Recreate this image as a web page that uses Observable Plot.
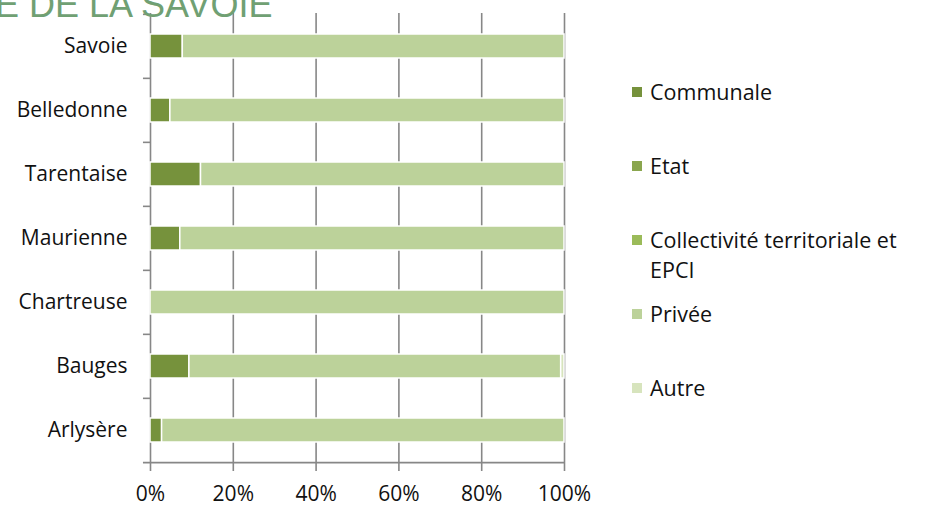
<!DOCTYPE html>
<html>
<head>
<meta charset="utf-8">
<script src="https://cdn.jsdelivr.net/npm/d3@7"></script>
<script src="https://cdn.jsdelivr.net/npm/@observablehq/plot@0.6"></script>
<style>
  html, body { margin: 0; padding: 0; background: #fff; }
  #wrap { position: relative; width: 926px; height: 506px; overflow: hidden; font-family: "Open Sans", Lato, sans-serif; }
  #title { position: absolute; left: -5px; top: -13.5px; font-family: "Liberation Sans", Arial, sans-serif; font-size: 36px; color: #70a073; white-space: nowrap; line-height: 1; }
  #chart { position: absolute; left: 0; top: 0; }
  #legend { position: absolute; left: 632px; top: 0; }
  .li { position: absolute; left: 0; white-space: nowrap; font-size: 21.5px; color: #111; line-height: 30px; }
  .sw { position: absolute; left: 0; width: 10px; height: 10px; }
  .lt { position: absolute; left: 18px; }
</style>
</head>
<body>
<div id="wrap">
  <div id="chart"></div>
  <div id="title">E DE LA SAVOIE</div>
  <div id="legend"></div>
</div>
<script>
const regions = ["Savoie", "Belledonne", "Tarentaise", "Maurienne", "Chartreuse", "Bauges", "Arlysère"];
const series = ["Communale", "Etat", "Collectivité territoriale et EPCI", "Privée", "Autre"];
const colors = ["#76923c", "#8aa64e", "#9bbb59", "#bcd29a", "#d7e4bd"];
const communale = [7.8, 4.8, 12.2, 7.2, 0, 9.4, 2.8];
const etat = [0, 0, 0, 0, 0, 0, 0];
const collectivite = [0, 0, 0, 0, 0, 0, 0];
const privee = [92.2, 95.2, 87.8, 92.8, 100, 89.8, 97.2];
const autre = [0, 0, 0, 0, 0, 0.8, 0];
const xTicks = [0, 0.2, 0.4, 0.6, 0.8, 1];

const cols = [communale, etat, collectivite, privee, autre];
const data = [];
regions.forEach((r, i) => {
  series.forEach((s, j) => {
    data.push({region: r, serie: s, value: cols[j][i] / 100});
  });
});

const chart = Plot.plot({
  width: 620,
  height: 506,
  marginLeft: 150,
  marginRight: 56,
  marginTop: 13,
  marginBottom: 43,
  style: {fontFamily: "'Open Sans', Lato, sans-serif", fontSize: "21px", color: "#111", background: "transparent"},
  x: {domain: [0, 1], label: null},
  y: {domain: regions, paddingInner: 0.625, paddingOuter: 0.3125, align: 0.5, label: null},
  color: {domain: series, range: colors},
  marks: [
    Plot.gridX(xTicks, {stroke: "#878787", strokeOpacity: 1, strokeWidth: 1.6}),
    Plot.ruleY(regions, {y: d => d, dy: -32.15, x1: -0.017, x2: 0, stroke: "#878787", strokeWidth: 1.6}),
    Plot.ruleY([regions[regions.length - 1]], {y: d => d, dy: 32.15, x1: -0.017, x2: 1, stroke: "#878787", strokeWidth: 1.6}),
    Plot.barX(data, Plot.stackX({
      x: "value", y: "region", fill: "serie", order: series,
      stroke: "white", strokeWidth: 1.5,
      style: "filter: drop-shadow(0px 4px 2px rgba(0,0,0,0.35))"
    })),
    Plot.axisY({tickSize: 0, tickPadding: 23, fontSize: 21, label: null}),
    Plot.axisX(xTicks, {tickFormat: d3.format(".0%"), tickSize: 8, tickPadding: 15, stroke: "#878787", strokeWidth: 1.6, fontSize: 21, fill: "#111", label: null})
  ]
});
document.getElementById("chart").appendChild(chart);

// legend
const legendRows = [
  {label: "Communale", y: 92},
  {label: "Etat", y: 166},
  {label: "Collectivité territoriale et<br>EPCI", y: 240},
  {label: "Privée", y: 314},
  {label: "Autre", y: 388}
];
const legend = document.getElementById("legend");
legendRows.forEach((row, i) => {
  const div = document.createElement("div");
  div.className = "li";
  div.style.top = (row.y - 15) + "px";
  div.innerHTML = `<span class="sw" style="background:${colors[i]};top:10px"></span><span class="lt">${row.label}</span>`;
  legend.appendChild(div);
});
</script>
</body>
</html>
